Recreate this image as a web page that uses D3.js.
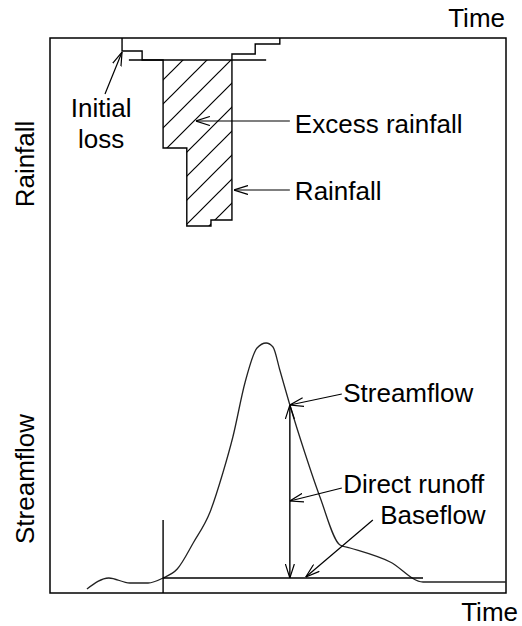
<!DOCTYPE html>
<html>
<head>
<meta charset="utf-8">
<script src="https://cdn.jsdelivr.net/npm/d3@7"></script>
<style>
  body { margin: 0; background: #fff; }
  text { font-family: "Liberation Sans", Arial, sans-serif; font-size: 26px; fill: #000; }
</style>
</head>
<body>
<div id="chart"></div>
<script>
// hyetograph : blocs de pluie [debut, fin, hauteur]
var rainBlocks = [
  [15.8, 20.2, 3.25],
  [20.2, 24.8, 5.5],
  [24.8, 30.0, 27.5],
  [30.0, 35.3, 47],
  [35.3, 39.9, 45.5],
  [39.9, 45.0, 4],
  [45.0, 50.4, 1.5]
];
var initialLoss = 5.5;
var lossLine = [17.3, 47.4];

// hydrogramme [temps, debit]
var flowTime = [8.1, 12.9, 17.5, 21.5, 24.8, 27.9, 31.4, 35.1, 37.9, 40.1, 42.8, 45.4, 47.4, 48.9, 50.4, 52.6, 55.9, 59.2, 63.6, 65.8, 74.6, 81.8, 100];
var flowValue = [1.6, 6.0, 4.0, 4.0, 6.0, 9.6, 20, 32.4, 48, 62.4, 84.4, 98, 100, 98.4, 89.2, 75.2, 56, 38.4, 19.2, 18, 12.4, 4.4, 4.4];
var baseflow = 6;
var baseflowRange = [24.8, 81.8];
var riseStart = [24.8, 29.2];      // ligne verticale debut ruissellement
var runoffAt = 52.6;

// annotations : [texte, t, y, ancre]
var rainLabels = [
  ["Initial", 11.2, 19.75, "middle"],
  ["loss", 11.2, 27.5, "middle"],
  ["Excess rainfall", 53.7, 23.75, "start"],
  ["Rainfall", 53.7, 40.5, "start"]
];
var rainArrows = [  // [t0, r0, t1, r1]
  [12.06, 14, 15.8, 3.5],
  [52.6, 20.75, 32.0, 20.75],
  [52.6, 38, 40.35, 38]
];
var flowLabels = [
  ["Streamflow", 64.3, 76.4, "start"],
  ["Direct runoff", 64.3, 40, "start"],
  ["Baseflow", 72.4, 27.6, "start"]
];
var flowArrows = [
  [64.0, 79.6, 52.6, 75.2],
  [64.0, 42, 52.6, 36.8],
  [70.8, 29.2, 56.1, 6.4]
];

var W = 522, H = 626;
var frame = {left: 50, top: 38, right: 506, bottom: 593};

var svg = d3.select("#chart").append("svg")
  .attr("width", W).attr("height", H);

var x = d3.scaleLinear().domain([0, 100]).range([frame.left, frame.right]);
var yRain = d3.scaleLinear().domain([0, 50]).range([frame.top, frame.top + 200]);
var yFlow = d3.scaleLinear().domain([0, 100]).range([frame.bottom, frame.bottom - 250]);

var defs = svg.append("defs");
defs.append("marker")
  .attr("id", "head")
  .attr("markerUnits", "userSpaceOnUse")
  .attr("viewBox", "0 0 14 10")
  .attr("refX", 14).attr("refY", 5)
  .attr("markerWidth", 14).attr("markerHeight", 10)
  .attr("orient", "auto-start-reverse")
  .append("path")
  .attr("d", "M0,0.5 L14,5 L0,9.5")
  .attr("fill", "none").attr("stroke", "#000").attr("stroke-width", 1.2);

// hachures
var hatch = defs.append("pattern")
  .attr("id", "hatch")
  .attr("patternUnits", "userSpaceOnUse")
  .attr("x", 3).attr("y", 0)
  .attr("width", 24).attr("height", 24);
hatch.append("path")
  .attr("d", "M0,24 L24,0 M-6,6 L6,-6 M18,30 L30,18")
  .attr("stroke", "#000").attr("stroke-width", 1.2);

// cadre
svg.append("rect")
  .attr("x", frame.left).attr("y", frame.top)
  .attr("width", frame.right - frame.left).attr("height", frame.bottom - frame.top)
  .attr("fill", "none").attr("stroke", "#000").attr("stroke-width", 1.5);

// pluie nette (zone hachuree sous la perte initiale)
var excess = rainBlocks.filter(function(b) { return b[2] > initialLoss; });
var excessPts = [[excess[0][0], initialLoss]];
excess.forEach(function(b) { excessPts.push([b[0], b[2]], [b[1], b[2]]); });
excessPts.push([excess[excess.length - 1][1], initialLoss]);
svg.append("path")
  .attr("d", d3.line().x(function(d) { return x(d[0]); }).y(function(d) { return yRain(d[1]); })(excessPts) + "Z")
  .attr("fill", "url(#hatch)").attr("stroke", "none");

// contour du hyetogramme
var outline = [[rainBlocks[0][0], 0]];
rainBlocks.forEach(function(b) { outline.push([b[0], b[2]], [b[1], b[2]]); });
outline.push([rainBlocks[rainBlocks.length - 1][1], 0]);
svg.append("path")
  .attr("d", d3.line().x(function(d) { return x(d[0]); }).y(function(d) { return yRain(d[1]); })(outline))
  .attr("fill", "none").attr("stroke", "#000").attr("stroke-width", 1.4);

// ligne de perte initiale
svg.append("line")
  .attr("x1", x(lossLine[0])).attr("x2", x(lossLine[1]))
  .attr("y1", yRain(initialLoss)).attr("y2", yRain(initialLoss))
  .attr("stroke", "#000").attr("stroke-width", 1.4);

// hydrogramme
var flowData = flowTime.map(function(t, i) { return [t, flowValue[i]]; });
svg.append("path")
  .attr("d", d3.line().curve(d3.curveMonotoneX)
    .x(function(d) { return x(d[0]); }).y(function(d) { return yFlow(d[1]); })(flowData))
  .attr("fill", "none").attr("stroke", "#222").attr("stroke-width", 1.3);

// debit de base
svg.append("line")
  .attr("x1", x(baseflowRange[0])).attr("x2", x(baseflowRange[1]))
  .attr("y1", yFlow(baseflow)).attr("y2", yFlow(baseflow))
  .attr("stroke", "#000").attr("stroke-width", 1.4);
svg.append("line")
  .attr("x1", x(riseStart[0])).attr("x2", x(riseStart[0]))
  .attr("y1", yFlow(0)).attr("y2", yFlow(riseStart[1]))
  .attr("stroke", "#000").attr("stroke-width", 1.4);

// ruissellement direct (double fleche)
var peakAt = flowValue[flowTime.indexOf(runoffAt)];
svg.append("line")
  .attr("x1", x(runoffAt)).attr("x2", x(runoffAt))
  .attr("y1", yFlow(baseflow)).attr("y2", yFlow(peakAt))
  .attr("stroke", "#000").attr("stroke-width", 1.4)
  .attr("marker-start", "url(#head)").attr("marker-end", "url(#head)");

function arrows(data, ys) {
  svg.append("g").selectAll("line").data(data).enter().append("line")
    .attr("x1", function(d) { return x(d[0]); })
    .attr("y1", function(d) { return ys(d[1]); })
    .attr("x2", function(d) { return x(d[2]); })
    .attr("y2", function(d) { return ys(d[3]); })
    .attr("stroke", "#000").attr("stroke-width", 1.2)
    .attr("marker-end", "url(#head)");
}
function labels(data, ys) {
  svg.append("g").selectAll("text").data(data).enter().append("text")
    .attr("x", function(d) { return x(d[1]); })
    .attr("y", function(d) { return ys(d[2]); })
    .attr("text-anchor", function(d) { return d[3]; })
    .text(function(d) { return d[0]; });
}
arrows(rainArrows, yRain);
arrows(flowArrows, yFlow);
labels(rainLabels, yRain);
labels(flowLabels, yFlow);

// titres des axes
svg.append("text").attr("x", 505).attr("y", 27).attr("text-anchor", "end").text("Time");
svg.append("text").attr("x", 518).attr("y", 621).attr("text-anchor", "end").text("Time");
svg.append("text").attr("transform", "translate(34,164) rotate(-90)")
  .attr("text-anchor", "middle").text("Rainfall");
svg.append("text").attr("transform", "translate(34,479) rotate(-90)")
  .attr("text-anchor", "middle").text("Streamflow");
</script>
</body>
</html>
